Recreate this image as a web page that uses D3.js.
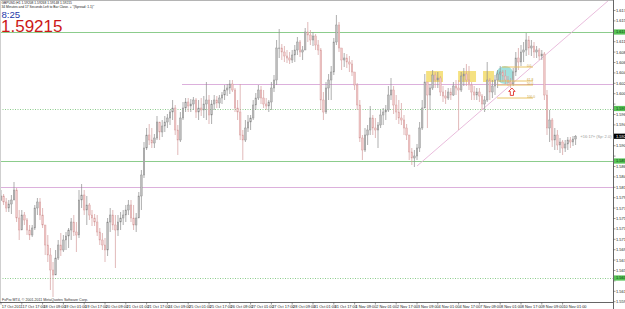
<!DOCTYPE html>
<html>
<head>
<meta charset="utf-8">
<script src="https://cdn.jsdelivr.net/npm/d3@7/dist/d3.min.js"></script>
<style>
body{margin:0;background:#fff;}
svg{display:block;font-family:"Liberation Sans",Arial,sans-serif;}
</style>
</head>
<body>
<svg id="chart" width="625" height="309"></svg>
<script>
// GBPUSD H1 (drawn as 2-hour candles)
var firstOpen=1.5793;
var highs=[
1.5814,1.5806,1.5798,1.5794,1.5804,1.5830,1.5818,1.5774,1.5774,1.5770,
1.5758,1.5744,1.5744,1.5784,1.5798,1.5798,1.5778,1.5744,1.5724,1.5698,
1.5670,1.5694,1.5714,1.5728,1.5724,1.5730,1.5738,1.5758,1.5764,1.5750,
1.5814,1.5826,1.5814,1.5802,1.5788,1.5774,1.5766,1.5764,1.5738,1.5728,
1.5718,1.5758,1.5778,1.5774,1.5764,1.5764,1.5770,1.5774,1.5784,1.5794,
1.5794,1.5784,1.5768,1.5810,1.5854,1.5910,1.5938,1.5946,1.5938,1.5926,
1.5962,1.5950,1.5954,1.5962,1.5966,1.5974,1.5994,1.5984,1.5944,1.5970,
1.5990,1.5998,1.5998,1.5996,1.6000,1.5998,1.5994,1.5998,1.6002,1.6030,
1.6004,1.5994,1.6004,1.6002,1.6004,1.6010,1.6024,1.6026,1.6034,1.6034,
1.6018,1.5994,1.6026,1.5934,1.5954,1.5964,1.5964,1.5994,1.6008,1.6024,
1.6022,1.6014,1.5998,1.5994,1.6030,1.6044,1.6114,1.6136,1.6106,1.6102,
1.6094,1.6090,1.6094,1.6104,1.6120,1.6114,1.6102,1.6138,1.6150,1.6134,
1.6130,1.6126,1.6114,1.6098,1.6010,1.6030,1.6046,1.6062,1.6118,1.6164,
1.6150,1.6098,1.6088,1.6086,1.6082,1.6074,1.6050,1.6028,1.5994,1.5924,
1.5938,1.5944,1.5982,1.5964,1.5958,1.5950,1.5974,1.5978,1.5984,1.6022,
1.6038,1.6022,1.6004,1.5994,1.5988,1.5964,1.5946,1.5914,1.5898,1.5894,
1.5906,1.5950,1.5994,1.6046,1.6030,1.6026,1.6054,1.6050,1.6050,1.6042,
1.6022,1.6014,1.6018,1.6018,1.6030,1.6034,1.6034,1.6050,1.6058,1.6066,
1.6062,1.6030,1.6022,1.6018,1.6018,1.6006,1.6002,1.6070,1.6038,1.6034,
1.6044,1.6054,1.6062,1.6054,1.6054,1.6042,1.6038,1.6058,1.6090,1.6098,
1.6104,1.6110,1.6128,1.6122,1.6114,1.6110,1.6102,1.6098,1.6094,1.6090,
1.6014,1.5974,1.5958,1.5938,1.5934,1.5918,1.5914,1.5914,1.5920,1.5920,
1.5922,1.5924];
var lows=[
1.5794,1.5784,1.5770,1.5770,1.5766,1.5794,1.5750,1.5714,1.5742,1.5744,
1.5724,1.5714,1.5720,1.5734,1.5764,1.5754,1.5738,1.5684,1.5670,1.5614,
1.5600,1.5650,1.5674,1.5682,1.5690,1.5694,1.5698,1.5714,1.5722,1.5690,
1.5718,1.5778,1.5764,1.5744,1.5754,1.5742,1.5742,1.5722,1.5704,1.5694,
1.5670,1.5682,1.5730,1.5734,1.5658,1.5722,1.5734,1.5744,1.5750,1.5764,
1.5750,1.5734,1.5730,1.5770,1.5774,1.5838,1.5894,1.5904,1.5898,1.5898,
1.5914,1.5914,1.5920,1.5930,1.5938,1.5944,1.5954,1.5924,1.5884,1.5910,
1.5954,1.5970,1.5970,1.5970,1.5974,1.5958,1.5954,1.5962,1.5958,1.5954,
1.5946,1.5946,1.5974,1.5978,1.5978,1.5986,1.5994,1.6002,1.6006,1.6010,
1.5970,1.5954,1.5914,1.5874,1.5910,1.5930,1.5934,1.5954,1.5974,1.5994,
1.5986,1.5978,1.5974,1.5970,1.5974,1.6010,1.6024,1.6078,1.6074,1.6070,
1.6068,1.6066,1.6068,1.6070,1.6084,1.6080,1.6074,1.6094,1.6110,1.6104,
1.6102,1.6094,1.6084,1.5974,1.5954,1.5966,1.5994,1.5994,1.6044,1.6104,
1.6090,1.6054,1.6060,1.6058,1.6050,1.6042,1.6014,1.5974,1.5910,1.5874,
1.5890,1.5904,1.5924,1.5924,1.5918,1.5898,1.5938,1.5944,1.5954,1.5970,
1.5994,1.5966,1.5954,1.5946,1.5944,1.5924,1.5914,1.5874,1.5864,1.5860,
1.5874,1.5890,1.5934,1.5984,1.5938,1.5974,1.6014,1.6018,1.6018,1.6002,
1.5990,1.5986,1.5994,1.5994,1.6002,1.6004,1.5934,1.6010,1.6022,1.6022,
1.6014,1.5994,1.5994,1.5994,1.5990,1.5974,1.5970,1.5990,1.5994,1.5998,
1.6004,1.6018,1.6030,1.6030,1.6026,1.6022,1.6018,1.6022,1.6042,1.6054,
1.6062,1.6070,1.6082,1.6084,1.6082,1.6078,1.6078,1.6074,1.6074,1.5994,
1.5924,1.5910,1.5900,1.5894,1.5894,1.5888,1.5884,1.5890,1.5894,1.5898,
1.5902,1.5904];
var closes=[
1.5802,1.5790,1.5778,1.5786,1.5794,1.5814,1.5758,1.5734,1.5764,1.5754,
1.5734,1.5724,1.5738,1.5778,1.5790,1.5764,1.5744,1.5704,1.5684,1.5654,
1.5644,1.5678,1.5704,1.5694,1.5714,1.5722,1.5734,1.5750,1.5730,1.5724,
1.5794,1.5804,1.5774,1.5784,1.5764,1.5758,1.5750,1.5730,1.5714,1.5704,
1.5694,1.5750,1.5764,1.5744,1.5734,1.5750,1.5758,1.5764,1.5774,1.5784,
1.5758,1.5744,1.5758,1.5802,1.5844,1.5898,1.5924,1.5914,1.5908,1.5918,
1.5950,1.5930,1.5942,1.5950,1.5958,1.5970,1.5978,1.5934,1.5914,1.5958,
1.5978,1.5990,1.5982,1.5986,1.5994,1.5970,1.5978,1.5974,1.5986,1.5994,
1.5964,1.5986,1.5994,1.5988,1.5998,1.6004,1.6014,1.6018,1.6026,1.6014,
1.5978,1.5970,1.5924,1.5914,1.5938,1.5950,1.5958,1.5984,1.5998,1.6014,
1.5998,1.5986,1.5982,1.5990,1.6018,1.6034,1.6098,1.6098,1.6090,1.6082,
1.6078,1.6074,1.6084,1.6094,1.6110,1.6090,1.6094,1.6130,1.6124,1.6114,
1.6122,1.6104,1.6094,1.5994,1.5970,1.6018,1.6034,1.6050,1.6110,1.6144,
1.6098,1.6074,1.6078,1.6070,1.6066,1.6050,1.6024,1.5984,1.5918,1.5894,
1.5924,1.5934,1.5958,1.5938,1.5934,1.5944,1.5964,1.5970,1.5974,1.6004,
1.6014,1.5984,1.5970,1.5958,1.5954,1.5938,1.5924,1.5890,1.5878,1.5882,
1.5898,1.5938,1.5978,1.6030,1.6004,1.6018,1.6044,1.6034,1.6038,1.6010,
1.6002,1.5998,1.6010,1.6004,1.6022,1.6018,1.6014,1.6042,1.6046,1.6034,
1.6024,1.6010,1.6004,1.6010,1.6002,1.5986,1.5994,1.6034,1.6010,1.6022,
1.6034,1.6046,1.6050,1.6042,1.6034,1.6030,1.6026,1.6050,1.6078,1.6070,
1.6090,1.6094,1.6114,1.6098,1.6102,1.6090,1.6094,1.6082,1.6086,1.6004,
1.5938,1.5954,1.5914,1.5924,1.5904,1.5910,1.5898,1.5906,1.5914,1.5910,
1.5916,1.59215];

var timeLabels=["17 Oct 2011","17 Oct 17:00","18 Oct 09:00","19 Oct 01:00","19 Oct 17:00",
"20 Oct 09:00","21 Oct 01:00","21 Oct 17:00","24 Oct 09:00","25 Oct 01:00","25 Oct 17:00",
"26 Oct 09:00","27 Oct 01:00","27 Oct 17:00","28 Oct 09:00","31 Oct 01:00","31 Oct 17:00",
"1 Nov 09:00","2 Nov 01:00","2 Nov 17:00","3 Nov 09:00","4 Nov 01:00","4 Nov 17:00",
"7 Nov 09:00","8 Nov 01:00","8 Nov 17:00","9 Nov 09:00","10 Nov 01:00"];
var priceTicks=[1.61730,1.61522,1.61314,1.61106,1.60898,1.60690,1.60482,1.60274,1.60066,
1.59858,1.59650,1.59442,1.59234,1.59026,1.58818,1.58610,1.58402,1.58194,1.57986,1.57778,
1.57570,1.57362,1.57154,1.56946,1.56738,1.56530,1.56322,1.56114,1.55906];

// horizontal lines: price, kind, first bar
var hlinePrices=[1.6130,1.6026,1.5977,1.5872,1.5820,1.5638];
var hlineKinds=["green","pink","greendot","green","pink","greendot"];
var hlineStart=[0,70,0,0,0,0];
// trendline through two points: bar index, price
var trendPoints=[[160,1.5862],[208.5,1.6080]];
// highlight zones: bar from, bar to, price top, price bottom
var zones=[[163.5,170,1.6052,1.6030],[175.8,182.7,1.6052,1.6030],[185.4,189.6,1.6052,1.6030]];
// short level lines: bar from, bar to, price, label
var levels=[[192.7,204.6,1.6060,"0.0"],[190.8,204.6,1.6032,"61.8"],[190.8,204.6,1.6024,"50.0"],[190.8,204.6,1.5998,"100.0"]];
var circleMark=[193.8,1.6044];
var arrowMark=[196.5,1.6010];

var bid=1.59215;
var header="GBPUSD,H1  1.59208 1.59268 1.59148 1.59215";
var header2="34 Minutes and 17 Seconds Left to Bar Close. + \"(Spread: 1.1)\"";

var svg=d3.select("#chart");
var plotRight=613;
var plotBottom=302;

var x=d3.scaleLinear().domain([0,235.5]).range([1,613.3]);
var y=d3.scaleLinear().domain([1.6194,1.5576]).range([0,309]);

var candles=closes.map(function(c,i){
	return {i:i,o:i==0?firstOpen:closes[i-1],h:highs[i],l:lows[i],c:c};
});

svg.append("rect").attr("width",625).attr("height",309).attr("fill","#fff");

var plot=svg.append("g");
plot.append("clipPath").attr("id","clip").append("rect")
	.attr("x",0).attr("y",1).attr("width",plotRight).attr("height",plotBottom-1);

var layer=plot.append("g").attr("clip-path","url(#clip)");

// horizontal lines
hlinePrices.forEach(function(p,k){
	var kind=hlineKinds[k];
	layer.append("line")
	.attr("x1",x(hlineStart[k])-1).attr("x2",plotRight)
	.attr("y1",Math.round(y(p))+0.5).attr("y2",Math.round(y(p))+0.5)
	.attr("stroke",kind=="pink"?"#dcb0dc":"#8ccc8c")
	.attr("stroke-width",1)
	.attr("stroke-dasharray",kind=="greendot"?"1,1.5":null);
});

// zones
layer.selectAll(".zone").data(zones).enter().append("rect")
	.attr("x",d=>x(d[0])).attr("width",d=>x(d[1])-x(d[0]))
	.attr("y",d=>y(d[2])).attr("height",d=>y(d[3])-y(d[2]))
	.attr("fill","#f1d757").attr("opacity",0.75);

layer.append("circle")
	.attr("cx",x(circleMark[0])).attr("cy",y(circleMark[1])).attr("r",9)
	.attr("fill","#8ad9d6").attr("opacity",0.8);

// trend line extended to the right
var slope=(trendPoints[1][1]-trendPoints[0][1])/(trendPoints[1][0]-trendPoints[0][0]);
var endBar=235.5;
layer.append("line")
	.attr("x1",x(trendPoints[0][0])).attr("y1",y(trendPoints[0][1]))
	.attr("x2",x(endBar)).attr("y2",y(trendPoints[0][1]+slope*(endBar-trendPoints[0][0])))
	.attr("stroke","#e6b4d8").attr("stroke-width",0.9);

// candles
var cg=layer.append("g");
cg.selectAll(".wick").data(candles).enter().append("line")
	.attr("x1",d=>x(d.i)).attr("x2",d=>x(d.i))
	.attr("y1",d=>y(d.h)).attr("y2",d=>y(d.l))
	.attr("stroke",d=>d.c>=d.o?"#8c8c8c":"#d49c9c")
	.attr("stroke-width",0.7);
cg.selectAll(".body").data(candles).enter().append("rect")
	.attr("x",d=>x(d.i)-0.8).attr("width",1.6)
	.attr("y",d=>y(Math.max(d.o,d.c)))
	.attr("height",d=>Math.max(0.6,Math.abs(y(d.o)-y(d.c))))
	.attr("fill",d=>d.c>=d.o?"#bcbcbc":"#efc6c6")
	.attr("stroke",d=>d.c>=d.o?"#8a8a8a":"#d49c9c")
	.attr("stroke-width",0.4);

// level lines
levels.forEach(function(l){
	layer.append("line")
	.attr("x1",x(l[0])).attr("x2",x(l[1]))
	.attr("y1",y(l[2])).attr("y2",y(l[2]))
	.attr("stroke","#e8bd55").attr("stroke-width",0.9);
	layer.append("text")
	.attr("x",x(l[1])-6).attr("y",y(l[2])-0.5)
	.attr("font-size",3.2).attr("fill","#c9a040")
	.text(l[3]);
});

// red arrow
var ax=x(arrowMark[0]),ay=y(arrowMark[1]);
layer.append("path")
	.attr("d","M"+ax+","+(ay-4)+" l3.2,3.4 h-1.6 v4 h-3.2 v-4 h-1.6 z")
	.attr("fill","#fff").attr("stroke","#e0302a").attr("stroke-width",0.9);

// frame
plot.append("line").attr("x1",0).attr("x2",plotRight).attr("y1",0.5).attr("y2",0.5).attr("stroke","#b4b4b4");
plot.append("line").attr("x1",0.5).attr("x2",0.5).attr("y1",0).attr("y2",plotBottom).attr("stroke","#cfcfcf");
plot.append("line").attr("x1",0).attr("x2",plotRight).attr("y1",plotBottom+0.5).attr("y2",plotBottom+0.5).attr("stroke","#666");
plot.append("line").attr("x1",plotRight+0.5).attr("x2",plotRight+0.5).attr("y1",0).attr("y2",309).attr("stroke","#666");

// price axis; tags cover the regular labels next to them
var tags=[];
hlinePrices.forEach(function(p,k){ if(hlineKinds[k]!="pink") tags.push([p,"#57c357","#0b3b0b"]); });
tags.push([bid,"#000","#fff"]);

var yaxis=svg.append("g");
priceTicks.forEach(function(p){
	var yy=y(p);
	yaxis.append("line").attr("x1",plotRight).attr("x2",plotRight+2.5).attr("y1",yy).attr("y2",yy).attr("stroke","#555").attr("stroke-width",0.6);
	var covered=tags.some(t=>Math.abs(y(t[0])-yy)<5);
	if(!covered)
	yaxis.append("text").attr("x",plotRight+3).attr("y",yy+1.4)
	.attr("font-size",4).attr("fill","#222").text(p.toFixed(5));
});
tags.forEach(function(t){
	var yy=y(t[0]);
	yaxis.append("rect").attr("x",plotRight+1).attr("y",yy-2.6).attr("width",12).attr("height",5.2).attr("fill",t[1]);
	yaxis.append("text").attr("x",plotRight+3).attr("y",yy+1.4)
	.attr("font-size",4).attr("fill",t[2]).text(t[0].toFixed(5));
});

// time axis
var xaxis=svg.append("g");
timeLabels.forEach(function(t,n){
	var xx=x(n*8);
	xaxis.append("line").attr("x1",xx).attr("x2",xx).attr("y1",plotBottom).attr("y2",plotBottom+2.5).attr("stroke","#555").attr("stroke-width",0.6);
	xaxis.append("text").attr("x",xx+0.8).attr("y",307.5).attr("font-size",3.9).attr("fill","#222").text(t);
});

// texts
svg.append("text").attr("x",1.5).attr("y",4).attr("font-size",3.3).attr("fill","#222").text(header);
svg.append("text").attr("x",1.5).attr("y",8.2).attr("font-size",3.3).attr("fill","#222").text(header2);
svg.append("text").attr("x",1.5).attr("y",17.6).attr("font-size",9.6).attr("fill","#2236a8").text("8:25");
svg.append("text").attr("x",1).attr("y",32).attr("font-size",17).attr("fill","#cc1717").text("1.59215");
svg.append("text").attr("x",2).attr("y",300.5).attr("font-size",3.6).attr("fill","#333").text("FxPro MT4, \u00a9 2001-2011 MetaQuotes Software Corp.");
svg.append("text").attr("x",x(closes.length-1)+5).attr("y",y(bid)+1.4).attr("font-size",4).attr("fill","#999")
	.text("\u00ab16:17\u00bb (Sp: 2.0)");
</script>
</body>
</html>
